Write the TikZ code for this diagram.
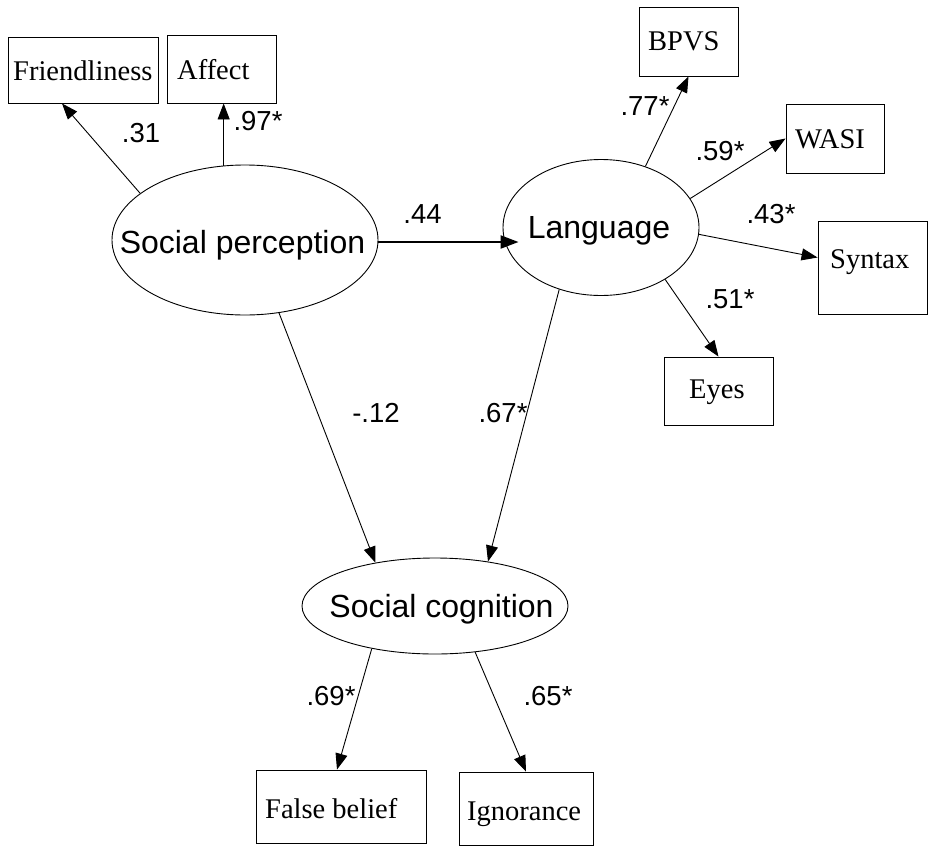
\documentclass[tikz,border=0pt]{standalone}
\usepackage{fontspec}
\setmainfont{Liberation Serif}
\setsansfont{Liberation Sans}
\usetikzlibrary{shapes.geometric,arrows.meta,calc}
\begin{document}
\begin{tikzpicture}[x=1pt,y=-1pt,
  latent/.style={draw,ellipse,line width=0.9pt,inner sep=0pt},
  manifest/.style={draw,rectangle,line width=0.9pt,inner sep=0pt},
  boxtext/.style={anchor=base west,inner sep=0pt,font=\fontsize{28.5}{30}\selectfont},
  lattext/.style={anchor=base,inner sep=0pt,font=\sffamily\fontsize{32}{34}\selectfont},
  coef/.style={anchor=base,inner sep=0pt,font=\sffamily\fontsize{27.5}{29}\selectfont},
  link/.style={line width=0.9pt,-{Triangle[length=16pt,width=12pt]}},
  mainlink/.style={line width=2.2pt,-{Triangle[length=18pt,width=13pt]}}
]
\useasboundingbox (0,0) rectangle (929,849);

% latent variables
\node[latent,minimum width=266pt,minimum height=150pt] (sp) at (245,240) {};
\node[latent,minimum width=196pt,minimum height=136pt] (lang) at (601,227.5) {};
\node[latent,minimum width=266pt,minimum height=96pt] (sc) at (435,606) {};
\node[lattext] (tsp) at (242.5,253) {Social perception};
\node[lattext] (tlang) at (599,238) {Language};
\node[lattext] (tsc) at (441.5,617) {Social cognition};

% observed measures
\node[manifest,minimum width=150pt,minimum height=66pt] (fr) at (83,70) {};
\node[manifest,minimum width=109pt,minimum height=68pt] (af) at (221.5,69) {};
\node[manifest,minimum width=99pt,minimum height=69pt] (bp) at (688.5,41.5) {};
\node[manifest,minimum width=98pt,minimum height=69pt] (wa) at (835,138.5) {};
\node[manifest,minimum width=109pt,minimum height=93pt] (sy) at (872.5,267.5) {};
\node[manifest,minimum width=109pt,minimum height=68pt] (ey) at (718.5,391) {};
\node[manifest,minimum width=170pt,minimum height=73pt] (fb) at (341,806.5) {};
\node[manifest,minimum width=134pt,minimum height=73pt] (ig) at (526,808.5) {};

\node[boxtext] (tfr) at (13,80) {Friendliness};
\node[boxtext] (taf) at (177,79) {Affect};
\node[boxtext] (tbp) at (648,50) {BPVS};
\node[boxtext] (twa) at (795,148) {WASI};
\node[boxtext] (tsy) at (830,268) {Syntax};
\node[boxtext] (tey) at (689,398) {Eyes};
\node[boxtext] (tfb) at (265,818) {False belief};
\node[boxtext] (tig) at (467,820) {Ignorance};

% paths
\draw[link] (sp.156.9) -- ($(fr.south)+(-21,0)$);
\draw[link] (sp.106.8) -- (sp.106.8 |- af.south);
\draw[mainlink,shorten >=-16pt] ($(sp.east)+(0,2)$) -- ($(sp.east -| lang.west)+(0,2)$);
\draw[link] (sp.-65.7) -- (sc.144.4);
\draw[link] (lang.236.1) -- (sc.40.7);
\draw[link] (lang.54.2) -- (bp.south);
\draw[link] (lang.18.7) -- (wa.west);
\draw[link] (lang.-4.9) -- ($(sy.west)+(0,-10)$);
\draw[link] (lang.-39.5) -- (ey.north);
\draw[link] (sc.214.9) -- ($(fb.north)+(-4,0)$);
\draw[link] (sc.-49.6) -- (ig.north);

% coefficients
\node[coef] (c1) at (141,142) {.31};
\node[coef] (c2) at (258,130) {.97*};
\node[coef] (c3) at (422.5,223) {.44};
\node[coef] (c4) at (645,115) {.77*};
\node[coef] (c5) at (720,160) {.59*};
\node[coef] (c6) at (771,223) {.43*};
\node[coef] (c7) at (730,308) {.51*};
\node[coef] (c8) at (376,422) {-.12};
\node[coef] (c9) at (503,422) {.67*};
\node[coef] (c10) at (331,705) {.69*};
\node[coef] (c11) at (548,705) {.65*};
\end{tikzpicture}
\end{document}
